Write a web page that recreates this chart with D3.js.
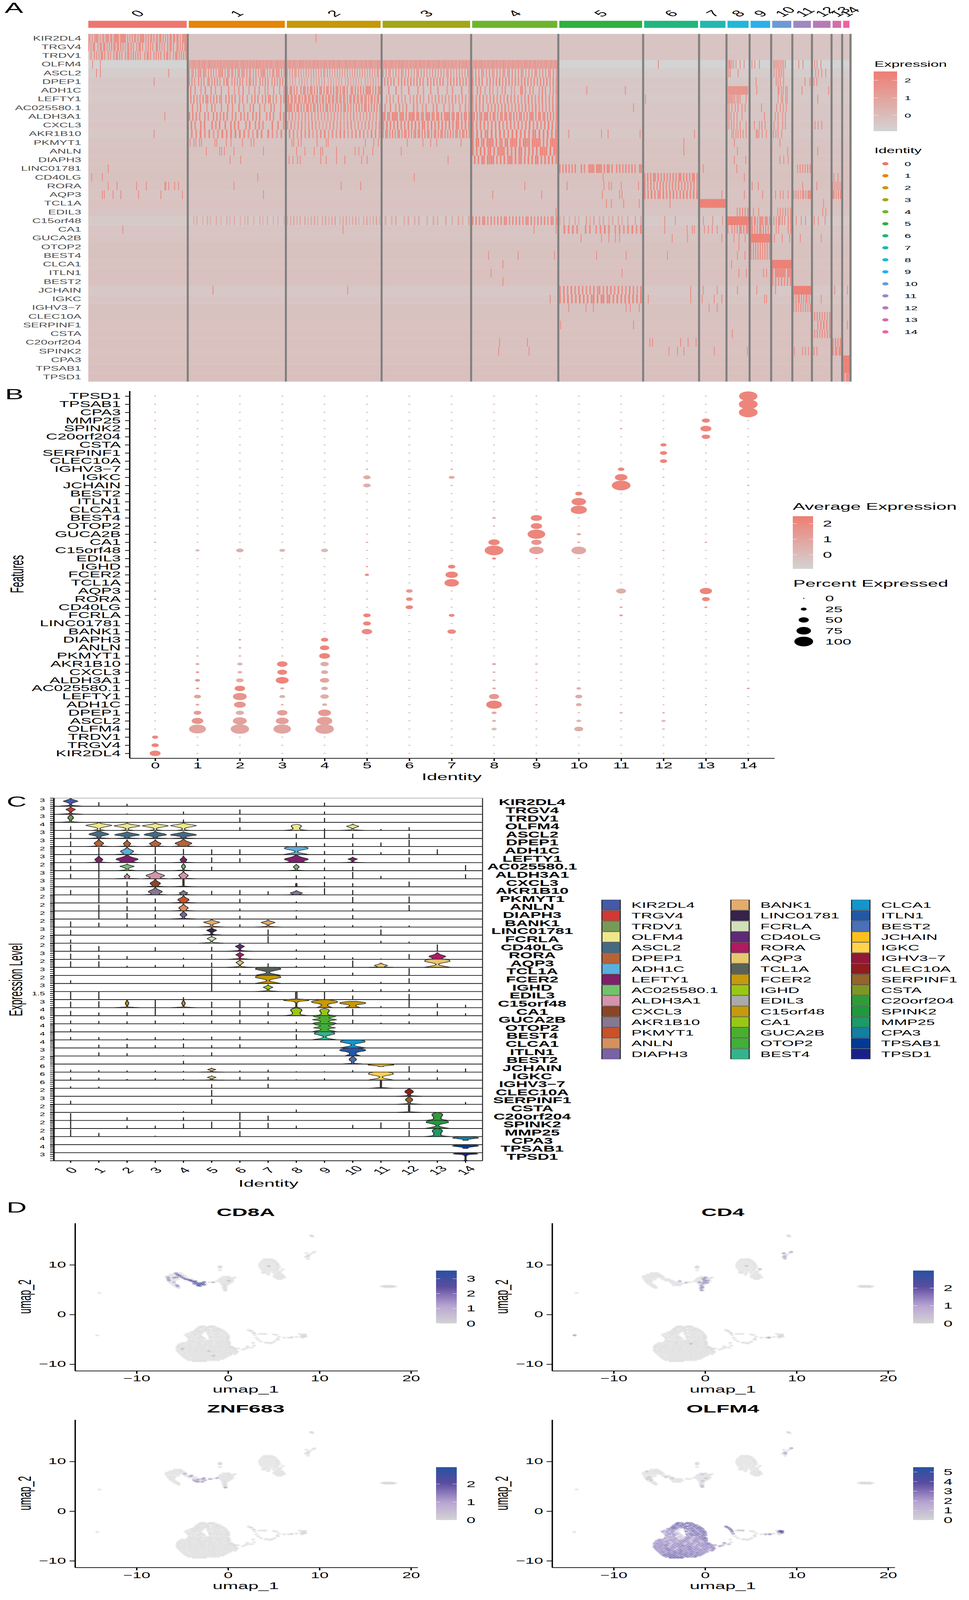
<!DOCTYPE html>
<html>
<head>
<meta charset="utf-8">
<script src="https://cdn.jsdelivr.net/npm/d3@7"></script>
<style>
  html, body { margin: 0; padding: 0; background: #fff; overflow: hidden; }
  svg { display: block; width: 100vw; height: 100vh; }
  text { font-family: "Liberation Sans", Arial, sans-serif; }
</style>
</head>
<body>
<svg id="fig" viewBox="0 0 2480 7926" preserveAspectRatio="none"></svg>
<script>
// ---- shared categories
const clusters = d3.range(15).map(String);
const clusterColors = ['#f0756f','#e58608','#c59806','#a3a51a','#6eb52d','#2fb040','#22b57e','#22b7b0','#20b8d8','#2bb0e8','#6e9ad4','#9f88c0','#b87ab5','#d46eaa','#ee62a0'];
// cells per cluster as seen from the width of the colour strip
const clusterSizes = [252,246,240,224,218,212,138,65,54,50,49,45,45,22,16];

// ---- panel A heatmap
const heatGenes = ['KIR2DL4','TRGV4','TRDV1','OLFM4','ASCL2','DPEP1','ADH1C','LEFTY1','AC025580.1','ALDH3A1','CXCL3','AKR1B10','PKMYT1','ANLN','DIAPH3','LINC01781','CD40LG','RORA','AQP3','TCL1A','EDIL3','C15orf48','CA1','GUCA2B','OTOP2','BEST4','CLCA1','ITLN1','BEST2','JCHAIN','IGKC','IGHV3\u22127','CLEC10A','SERPINF1','CSTA','C20orf204','SPINK2','CPA3','TPSAB1','TPSD1'];
// z score of a non expressing cell per gene
const heatZero = [-.32,-.32,-.32,-.9,-.62,-.45,-.45,-.5,-.38,-.4,-.36,-.42,-.3,-.28,-.27,-.26,-.25,-.26,-.3,-.22,-.3,-.55,-.35,-.3,-.25,-.25,-.22,-.2,-.2,-.45,-.35,-.25,-.25,-.22,-.2,-.2,-.22,-.18,-.15,-.15];
// blocks: gene, cluster, one char per group of cells ('.' none, digit = z / 0.3)
const heatBlocks = [
 ['KIR2DL4',0,'66.7.5677.6.57.678.68.58877.88888.7.6.8.76.8.7788.7.8.67.8.57.88.7.6.7.88.78.78.6.7878'],
 ['TRGV4',0,'7.6.78..6.77.88.6.7.8.78.78.8.7.5.77.8.7..7.88.7..6.8.7.7..88.7.6.7..8.78.7..68.7.7.88'],
 ['TRDV1',0,'..7..7.7.6.88.7..7.6..7.78.7.7..7.78.7.8.7.7.7...7.78.7..7.8.7.8..8.78.7..6.88.7.7.8.7'],
 ['OLFM4',1,'4344534353445334544353443534435344534453344534435344354453443534453344534435'],
 ['OLFM4',2,'4453445343544534435344534534435443534453445344354435344534435344534453443544'],
 ['OLFM4',3,'4453445344354453443534453453443544353445344534435344253444534'],
 ['OLFM4',4,'3445344534435344534534435443534453445344354435344534435344534453445'],
 ['ASCL2',1,'6.57.6.657.665.6.7.6.5.6657.6.67.57.6.57.665.7.65.6.7.5.6576.6.5.67.657.6.6'],
 ['ASCL2',2,'5.5.6.55.6.5.4.6.5.5.6.4.5.6.55.6.5.4.5.6.5.5.5.6.4.5.6.5.5.6.5.4.6.5.5.65.'],
 ['ASCL2',3,'5.6.55.4.6.5.65.5.6.4.5.65.5.6.5.4.6.5.5.6.5.55.6.4.5.6.5.5.65'],
 ['ASCL2',4,'5.6.5.65.5.6.54.6.5.65.56.6.5.5.65.4.6.5.65.5.6.5.65.6.5'],
 ['DPEP1',1,'7.7.6..7.6.7..76.6.8.7.6..7.87..6.7.6.7.7..6.76.7.6..7.6.7.7..6.7.6.7.7.'],
 ['DPEP1',2,'3.3.4.3..3.5.3.3..4.3.3.4.3.5..3.4.3.3.4.3..3.5.3.3.4.3.3..4.3.3.5.3.3.'],
 ['DPEP1',3,'.6.7.6.7..6.7.7.6.7.6.7.7.6..7.6.7.6.7.7..6.7.6.7.7.6.7.6'],
 ['DPEP1',4,'7.6.7.7..6.7.6.7.8.6.7.7.6.7.6.7.8.7.6.7.6.7.7.8.6.7.6'],
 ['ADH1C',1,'.7..6...5..7...7..5...6....6...5..6..7...5...6..6...5.5...6...5..5'],
 ['ADH1C',2,'7.78.7.7..8.87.7.78.7.8.87.7.87.7.8.78.7.78.7..87.8.7.8.7.8878.7.8.78'],
 ['ADH1C',3,'...5...6..4...6....5..4...5...5....4..5....6...4'],
 ['ADH1C',4,'5..7.6..5..6.4..4..5.6...4.4...77.6..6.5...5.7.6..5.6.7'],
 ['LEFTY1',1,'.7.7.6.6.7.77.6.7.7.66..7.8.7.7..6.7..6..6.7.7..6.7.77.6.6..7.7'],
 ['LEFTY1',2,'78.77.87.78.7.88.77.87.78.7.87.8.87.78.78.77.87.8.78.88.77.87.78.7.87.8.78.'],
 ['LEFTY1',3,'..4.5.4..6.4.5..4.5.6.5.4..5.4.5.6.4.5.4.6.5.4.5.5.4'],
 ['LEFTY1',4,'6.5.7.6.5.6.7.5.6.5.7.6.6.5.5.6.7.6.5.6.7.5.6.6.5'],
 ['AC025580.1',1,'..7..5.7...5..7.5...6...7..6...7..5...5.7...6..5...7.6...5..'],
 ['AC025580.1',2,'7788.7.78.8.7.78.7.77.8.7.7.78.7.7.8.7.7.78.7.7.6.7.8.7.78.7.7.8.7.6'],
 ['AC025580.1',3,'.5..6..5.6.4.6...6.5..4.5...5.6...5..4.5...5..6.4'],
 ['AC025580.1',4,'5.7.5.6..6.5.7.5.6.7.5.5.6.6.5.7.5.6.7.5.6.5.5.7.6'],
 ['ALDH3A1',1,'7.7.7.6..7.6..7.7.6.7.7..6.7..7.6.7..7.6.7...6.7.6...7.7'],
 ['ALDH3A1',2,'.5.6.4.5.4.5.4.6.4.5.4.5.5.4.6.4.4.5.4.5.6.4.5.4.5.6.4.5.4'],
 ['ALDH3A1',3,'78.87.8888.788.8.8788.88.78.888.87.88.8.7888.78.88.7.88.8'],
 ['ALDH3A1',4,'77.8.78.888.7.88.7.78.88.78.8.7.88.7.8.888.7.88.78.8.8.7.8'],
 ['CXCL3',1,'.7.6..7.7...7.6.7..7..7.7.7...6.7..6.7.6....7..7..6'],
 ['CXCL3',2,'5.6.4.5.6.4.5.6.5.4.3.4.5.6.4.5.4.5.6.4.5.4.5.6.4.5.6'],
 ['CXCL3',3,'7.8.7.7.8.7.7.8.7.8.7.87.7.8.7.7.8.7.8.7.87.7.8.7'],
 ['CXCL3',4,'7.6.7.7.6.7.7.8.6.7.7.6.7.6.7.8.6.7.6.7.8.7.6'],
 ['AKR1B10',1,'.6.5.7.5.6.4.5.7.6.7.7.7.6.5.4.7.6..7.5.4.6.'],
 ['AKR1B10',2,'.6.5.4.6.5.6.4.5.6.7.4.6.5.7.6.4.5.6.6.5.4.7.6.5'],
 ['AKR1B10',3,'7.78.7.8.7.78.7.87.8.7.78.78.7.8.78.7.78.7.87.8.7.8.7.78.7.87.8.7'],
 ['AKR1B10',4,'7.8.7.77.8.7.8.7.7.8.8.7.8.7.77.8.7.8.7.8'],
 ['PKMYT1',4,'8.88.78.8888.8.78.88.8878.8.8878.88888.7.8.8888'],
 ['ANLN',4,'8.7.8.8.78.8.8788.8.7.8.88.7.8.8.8.8878.8.88'],
 ['DIAPH3',4,'.8.7.88.8788.7.8.8.788.8.78.7.8.8.88.7.8.8.8.7'],
 ['LINC01781',5,'7.7.8.7.7.8...8.7..8787.8887.8.88.8..7.8.7.8.7.8.7..88'],
 ['LINC01781',11,'...5.6.6.6.7.7'],
 ['CD40LG',6,'7.8.7.87.8.7.8.7.7.8.7.88.7.8.7.88.8'],
 ['RORA',6,'7.6.7.6.6.7.7.6.6.7.6.7.6.7.6.7.7.7'],
 ['RORA',13,'7.7.8.7.7.7'],
 ['AQP3',6,'7.7.8.7.77.8.7.8.8.7.7.8.8.7.8.8'],
 ['AQP3',11,'7.7.7.6.78.8.888'],
 ['AQP3',13,'88.7.8.8'],
 ['TCL1A',7,'88888888888888888888888888'],
 ['EDIL3',8,'.......6.6.7.7.7'],
 ['EDIL3',10,'....5.6.5.6.5.6'],
 ['C15orf48',1,'...2.3...2..3.2...3..2...3.2..3...2..2.3...2...3.2..3...2..3...2'],
 ['C15orf48',2,'2.3.4.2.3..4.2.3.4.2..3.4.2.3.4..2.3.4.2.3.4.2..3.4.2.3.4.2'],
 ['C15orf48',3,'.3..2.3...2.3..2.3...2..3.2...3..2..3.2..3'],
 ['C15orf48',4,'7.7.6.77.6.7.6.7.7.77.6.7.7.7.6.77.7.6.7.7.7.6.77.7'],
 ['C15orf48',5,'2.3..2..3.2...4.2.4..3.3..2.3..3.2..3...3..3'],
 ['C15orf48',8,'88888888888888888888'],
 ['C15orf48',9,'88.88.8.8878.888.8'],
 ['C15orf48',10,'.7.7.78.8.7..8.7'],
 ['CA1',5,'..7.6.7.6...6.6..5.6.7.6..5.6.5.6.7.5.7'],
 ['CA1',8,'6..6.6.7.88.8.88'],
 ['CA1',9,'78.7.8.78.8.8.7.'],
 ['CA1',10,'...5.6.......7.7'],
 ['GUCA2B',9,'88888888888888888'],
 ['OTOP2',9,'7.8.8.7.8.7.8.8.7'],
 ['BEST4',9,'7.8.7.8.8.7.8.8.7'],
 ['CLCA1',10,'88888888888888'],
 ['ITLN1',10,'8.88888888.888'],
 ['BEST2',10,'6.7.6.7.6.7.7'],
 ['JCHAIN',5,'6.7.6.7.6.7.6.6.6.7.67.6.7.7.6.7.6.6.7.6.5.7'],
 ['JCHAIN',11,'888888888888'],
 ['IGKC',5,'7.7.8.7.7.8.7.7.78.8.88.78.7.8.7.7.8.7.7.8'],
 ['IGKC',11,'8.8.78.8.8.78.8.'],
 ['IGHV3\u22127',11,'6.7.6.7.6.7.6.7'],
 ['CLEC10A',12,'.7.7.7.6.7.6.7'],
 ['SERPINF1',12,'...6.7.8.8.7'],
 ['CSTA',12,'.6.7.6.7.6.7.7'],
 ['C20orf204',13,'7.8.7.8'],
 ['SPINK2',13,'8.78.88'],
 ['CPA3',14,'8888888'],
 ['TPSAB1',14,'8888888'],
 ['TPSD1',14,'88.8888']
];
// single expressing cells: gene, cluster, percent along the cluster
const heatSingles = [
 ['KIR2DL4',2,[31]],['OLFM4',0,[4,12]],['ASCL2',0,[8,12,82]],['DPEP1',0,[67]],['ALDH3A1',0,[78]],['AKR1B10',0,[67]],
 ['OLFM4',6,[26]],['OLFM4',8,[3,8,13,20,28,40,60,80]],['OLFM4',9,[5,20,45]],['OLFM4',10,[5,12,20,28,35,44,52,60,70]],['OLFM4',11,[30,55]],['OLFM4',12,[8,22,45]],
 ['ASCL2',8,[4,12,50]],['ASCL2',10,[8,20,32,40,50,60]],['ASCL2',12,[14,30,50,74]],
 ['DPEP1',9,[27]],['DPEP1',10,[20,30,42,60]],['DPEP1',11,[67,96]],['DPEP1',12,[4,21]],
 ['ADH1C',5,[33,80]],['ADH1C',8,[2,7,12,17,22,27,32,37,42,47,52,57,62,67,72,77,82,87,92,97]],['ADH1C',9,[31]],['ADH1C',10,[30,35,48,58,72,80]],['ADH1C',11,[49]],['ADH1C',12,[91]],
 ['LEFTY1',6,[2]],['LEFTY1',8,[2,8,14,20,27,34,45,52,60,90]],['LEFTY1',10,[30,48,55,72,80]],['LEFTY1',12,[26]],
 ['AC025580.1',5,[90]],['AC025580.1',8,[5,20,36,50,70,85]],['AC025580.1',9,[56]],['AC025580.1',10,[22,42,58,75]],
 ['ALDH3A1',8,[5,15,30,45,70]],['ALDH3A1',9,[72]],['ALDH3A1',10,[15,30,55,70]],
 ['CXCL3',8,[5,18,30,45,60,90]],['CXCL3',9,[18,45,58,75]],['CXCL3',10,[8,30,55,70]],['CXCL3',12,[10,28,50]],
 ['AKR1B10',5,[11,51,59,98]],['AKR1B10',6,[94]],['AKR1B10',8,[20,28,40,50,62,75,90]],['AKR1B10',9,[28,34,42,60,82]],['AKR1B10',10,[5,18,30,50]],
 ['PKMYT1',1,[1,5,7,11,13,27,29,39,44,56,65,68]],['PKMYT1',2,[5,7,12,15,32,42,44,84,93,98]],['PKMYT1',3,[28,46,55,62,90]],['PKMYT1',6,[74]],['PKMYT1',8,[32]],['PKMYT1',10,[40]],
 ['ANLN',1,[18,32,34,37,47,78]],['ANLN',2,[10,19,29,36,38,53,73,77,82,92]],['ANLN',3,[21]],['ANLN',6,[74]],['ANLN',8,[47]],['ANLN',10,[82]],['ANLN',12,[26]],
 ['DIAPH3',1,[43,54]],['DIAPH3',2,[2,6,11,14,36,42,53,62,80,86]],['DIAPH3',3,[75]],['DIAPH3',8,[32,88]],['DIAPH3',10,[40,61,85]],
 ['LINC01781',0,[20]],['LINC01781',7,[11]],['LINC01781',8,[44]],
 ['CD40LG',0,[3,14]],['CD40LG',1,[72]],['CD40LG',3,[36]],['CD40LG',5,[53]],['CD40LG',8,[81]],['CD40LG',13,[11,64]],
 ['RORA',0,[20,29,49,59,78,79,82,88,92]],['RORA',1,[47]],['RORA',2,[58,79]],['RORA',4,[62]],['RORA',5,[9,54,60,63,75,96]],['RORA',9,[6,39]],['RORA',11,[53]],['RORA',12,[21]],
 ['AQP3',0,[14,16,25,33,51,74,96]],['AQP3',1,[78]],['AQP3',4,[24,82]],['AQP3',5,[52,73,76]],['AQP3',7,[87]],['AQP3',8,[81]],['AQP3',9,[62]],['AQP3',10,[16,42,58,85]],
 ['TCL1A',5,[57,63,78,97]],['TCL1A',6,[48]],['TCL1A',12,[61]],
 ['EDIL3',4,[99]],['EDIL3',9,[13,41]],['EDIL3',12,[56,74]],
 ['C15orf48',6,[38,58]],['C15orf48',7,[12,50,90]],['C15orf48',11,[15,45,70]],['C15orf48',12,[6,30,70]],
 ['CA1',0,[35]],['CA1',2,[60]],['CA1',4,[73,99]],['CA1',6,[38,80,90,94]],['CA1',7,[16,32,48,68]],
 ['GUCA2B',5,[26,51,60,68,73]],['GUCA2B',6,[52,81]],['GUCA2B',7,[87]],['GUCA2B',8,[30,55,85]],['GUCA2B',10,[10,53,93]],['GUCA2B',11,[39]],['GUCA2B',12,[47]],
 ['OTOP2',8,[54]],['BEST4',4,[19,54,97]],['BEST4',5,[45,81]],['BEST4',6,[43]],['BEST4',8,[47,84]],
 ['CLCA1',4,[36]],['CLCA1',8,[18]],['ITLN1',4,[22]],['ITLN1',5,[76]],['ITLN1',8,[54,91]],['ITLN1',9,[67,83]],['BEST2',4,[36]],
 ['JCHAIN',1,[25]],['JCHAIN',2,[65]],['JCHAIN',6,[87]],['JCHAIN',7,[11,68]],['JCHAIN',8,[47]],['JCHAIN',9,[31]],['JCHAIN',10,[16]],['JCHAIN',13,[22]],['JCHAIN',14,[70]],
 ['IGKC',4,[92]],['IGKC',6,[7,87]],['IGKC',7,[7,56,87]],['IGKC',9,[72,83]],['IGKC',12,[47]],
 ['IGHV3\u22127',5,[11,32,41,81,86,97]],['IGHV3\u22127',7,[35,68]],
 ['SERPINF1',5,[1,90]],['SERPINF1',14,[70]],['CSTA',8,[22]],
 ['C20orf204',4,[32,65]],['C20orf204',6,[10,15,68,82,97]],
 ['SPINK2',4,[31,67]],['SPINK2',6,[46,62,74]],['SPINK2',7,[56]],['SPINK2',8,[96]],['SPINK2',11,[4,53,70,88]],['SPINK2',12,[4,21]]
];

// ---- panel B dot plot
const dotGenes = ['TPSD1','TPSAB1','CPA3','MMP25','SPINK2','C20orf204','CSTA','SERPINF1','CLEC10A','IGHV3\u22127','IGKC','JCHAIN','BEST2','ITLN1','CLCA1','BEST4','OTOP2','GUCA2B','CA1','C15orf48','EDIL3','IGHD','FCER2','TCL1A','AQP3','RORA','CD40LG','FCRLA','LINC01781','BANK1','DIAPH3','ANLN','PKMYT1','AKR1B10','CXCL3','ALDH3A1','AC025580.1','LEFTY1','ADH1C','DPEP1','ASCL2','OLFM4','TRDV1','TRGV4','KIR2DL4'];
// the visible dots: gene, cluster, percent expressed, average expression
const dotSpots = [
 ['TPSD1',14,98,2.2],['TPSAB1',14,100,2.2],['CPA3',14,100,2.2],
 ['MMP25',13,38,2.2],['MMP25',12,3,.5],['MMP25',0,3,.6],
 ['SPINK2',13,55,2.2],['SPINK2',11,7,.5],['SPINK2',0,3,.6],
 ['C20orf204',13,41,2.1],['C20orf204',0,3,.5],['C20orf204',6,3,.5],
 ['CSTA',12,27,2.2],['SERPINF1',12,33,2.2],['SERPINF1',14,4,.2],['CLEC10A',12,33,2.2],
 ['IGHV3\u22127',11,29,2.2],['IGHV3\u22127',5,5,.8],['IGHV3\u22127',7,5,1],
 ['IGKC',11,64,2.2],['IGKC',5,34,.6],['IGKC',7,25,.6],['IGKC',9,4,.2],['IGKC',12,4,.3],
 ['JCHAIN',11,100,2.2],['JCHAIN',5,34,.5],['JCHAIN',7,5,.4],['JCHAIN',12,4,.3],['JCHAIN',14,6,.3],
 ['BEST2',10,33,2.2],['ITLN1',10,75,2.1],['ITLN1',8,6,.4],['CLCA1',10,85,2.1],
 ['BEST4',9,57,2.1],['BEST4',8,12,.5],['OTOP2',9,57,2.1],['OTOP2',8,5,.4],
 ['GUCA2B',9,94,2.2],['GUCA2B',10,17,.5],['GUCA2B',5,4,.3],
 ['CA1',8,57,2.1],['CA1',9,51,1.5],['CA1',10,8,.8],['CA1',0,6,.1],['CA1',13,7,.3],['CA1',5,7,.4],['CA1',6,5,.1],['CA1',7,5,.2],
 ['C15orf48',8,100,2.1],['C15orf48',9,75,1.1],['C15orf48',10,77,.8],['C15orf48',1,16,.1],['C15orf48',2,34,.5],['C15orf48',3,25,.2],['C15orf48',4,32,.1],['C15orf48',12,5,.3],['C15orf48',0,3,-.1],['C15orf48',5,4,0],['C15orf48',6,3,0],['C15orf48',7,4,-.1],
 ['EDIL3',8,14,2],['EDIL3',9,5,1.6],['EDIL3',10,4,.8],
 ['IGHD',7,34,2.2],['IGHD',5,5,1.5],['FCER2',7,63,2.2],['FCER2',5,16,2],['TCL1A',7,75,2.2],
 ['AQP3',11,48,.6],['AQP3',13,62,2.2],['AQP3',0,5,-.2],['AQP3',6,30,1.3],
 ['RORA',13,37,2],['RORA',0,6,.2],['RORA',5,4,.3],['RORA',6,30,2],
 ['CD40LG',13,9,1.5],['CD40LG',6,34,2.2],['CD40LG',11,9,.7],
 ['FCRLA',5,34,2.2],['FCRLA',7,25,2],['FCRLA',11,12,1],
 ['LINC01781',5,37,2.2],['LINC01781',7,3,.5],['BANK1',5,52,2],['BANK1',7,41,2],
 ['DIAPH3',2,7,1],['DIAPH3',4,34,2.2],['ANLN',1,4,.9],['ANLN',2,7,.8],['ANLN',4,45,2.2],
 ['PKMYT1',1,5,1],['PKMYT1',2,7,.6],['PKMYT1',3,4,.3],['PKMYT1',4,54,2.2],
 ['AKR1B10',1,12,1],['AKR1B10',2,23,.2],['AKR1B10',3,52,2.1],['AKR1B10',4,41,.6],['AKR1B10',8,14,.7],['AKR1B10',9,7,.5],
 ['CXCL3',1,11,1.3],['CXCL3',2,18,.4],['CXCL3',3,48,2.1],['CXCL3',4,32,.7],['CXCL3',8,8,.4],['CXCL3',9,5,.3],
 ['ALDH3A1',1,20,1.5],['ALDH3A1',2,36,.5],['ALDH3A1',3,66,2.2],['ALDH3A1',4,45,.9],['ALDH3A1',8,9,.4],['ALDH3A1',9,4,.3],
 ['AC025580.1',1,11,1.2],['AC025580.1',2,52,2.2],['AC025580.1',3,14,.6],['AC025580.1',4,30,.6],['AC025580.1',8,12,.6],['AC025580.1',9,4,.4],['AC025580.1',10,18,.5],['AC025580.1',14,8,1.5],
 ['LEFTY1',1,32,1],['LEFTY1',2,72,1.5],['LEFTY1',3,25,.4],['LEFTY1',4,41,.5],['LEFTY1',8,50,1.5],['LEFTY1',10,32,.7],
 ['ADH1C',1,12,.7],['ADH1C',2,59,1.5],['ADH1C',3,7,.6],['ADH1C',4,21,.4],['ADH1C',8,82,2.3],['ADH1C',9,5,.3],['ADH1C',10,25,.5],['ADH1C',13,4,.3],
 ['DPEP1',1,36,1.4],['DPEP1',2,39,.5],['DPEP1',3,52,1.2],['DPEP1',4,66,1.4],['DPEP1',8,20,.7],['DPEP1',10,4,.3],['DPEP1',11,11,0],['DPEP1',12,7,.7],
 ['ASCL2',1,59,1.6],['ASCL2',2,73,1],['ASCL2',3,66,1.1],['ASCL2',4,81,1.1],['ASCL2',8,14,.2],['ASCL2',10,19,.1],['ASCL2',12,16,0],
 ['OLFM4',1,90,.95],['OLFM4',2,98,.95],['OLFM4',3,93,.95],['OLFM4',4,99,.95],['OLFM4',8,22,-.1],['OLFM4',9,5,-.4],['OLFM4',10,43,.6],['OLFM4',11,5,-.4],['OLFM4',12,9,-.4],
 ['TRDV1',0,27,2.1],['TRGV4',0,34,2.2],['KIR2DL4',0,54,2.2]
];
const dotPercentBreaks = [0,25,50,75,100];

// ---- panel C stacked violins
const violinGenes = ['KIR2DL4','TRGV4','TRDV1','OLFM4','ASCL2','DPEP1','ADH1C','LEFTY1','AC025580.1','ALDH3A1','CXCL3','AKR1B10','PKMYT1','ANLN','DIAPH3','BANK1','LINC01781','FCRLA','CD40LG','RORA','AQP3','TCL1A','FCER2','IGHD','EDIL3','C15orf48','CA1','GUCA2B','OTOP2','BEST4','CLCA1','ITLN1','BEST2','JCHAIN','IGKC','IGHV3\u22127','CLEC10A','SERPINF1','CSTA','C20orf204','SPINK2','MMP25','CPA3','TPSAB1','TPSD1'];
const violinColors = ['#4459a8','#d03a32','#759a58','#eee88c','#466a84','#b86238','#5bb0de','#7f206a','#72c26c','#d494ac','#8c4426','#86788f','#c8522a','#d6905e','#7a62a6','#e4ac6a','#37224a','#d0dfb8','#5e2a78','#b01a60','#e6c870','#596259','#c69a08','#98c814','#aaaaaa','#c69a08','#98c814','#4cae30','#40b038','#34b48c','#1496cc','#2258a8','#4a70b8','#fac01e','#ffd34e','#921838','#901c20','#946428','#7c9628','#339a3c','#1e9a3c','#1c9a68','#147f9e','#003a96','#182088'];
const violinTickLabels = [3,3,3,4,3,3,2,3,2,3,3,3,2,2,2,2,3,2,2,3,2,3,2,3,1.5,3,4,6,4,4,4,3,2,6,6,6,2,3,2,2,2,2,4,4,3];
// height of the plain spikes, as a share of the facet, one row per gene
const violinSpikes = [
 [0,.5,.3,0,0,0,0,0,0,.45,0,0,0,0,0],[0,0,.1,0,.35,0,.6,0,0,.35,0,0,0,0,0],[0,0,0,0,.35,0,.6,0,0,.55,0,0,0,0,0],
 [.5,0,0,0,0,0,.4,0,0,.25,0,.18,.4,0,0],[.7,0,0,0,0,0,0,0,.6,1,.6,0,.6,0,0],[.65,0,0,0,0,0,0,0,.5,.4,.4,.5,.85,0,0],
 [.55,.9,0,.95,.7,.65,.65,0,0,.45,.6,.3,.65,.65,0],[.5,0,0,.75,0,.65,.55,0,0,.4,0,0,.65,0,0],[.6,1,0,.8,0,.5,0,0,0,.4,.5,0,0,0,.7],
 [.6,1,0,0,0,0,0,0,.4,.3,.85,.35,0,0,.55],[0,.9,.65,0,0,0,0,0,0,.6,.45,0,.65,0,0],[.6,.9,.55,0,0,.5,.6,.45,0,.85,.6,0,0,0,0],
 [0,1,.65,.55,0,0,.5,0,.2,0,.75,0,.8,0,0],[0,.8,.6,.55,0,0,.3,0,.1,0,.3,0,.75,0,0],[0,.95,.75,.6,0,0,.4,0,.4,0,.5,0,0,0,0],
 [.7,.55,.35,.3,.3,0,.35,0,0,.2,.25,.15,.2,0,0],[.65,0,0,0,0,0,0,.7,.2,.2,0,.7,0,0,0],[.45,0,0,0,0,0,0,.9,0,.4,0,.3,.2,0,0],
 [.85,.65,0,.5,0,.55,0,0,.25,0,0,0,0,.85,0],[.7,.55,.4,0,.2,.65,0,0,.2,.5,.25,.1,.65,0,0],[.75,.75,.2,.3,.35,.6,0,.5,.2,.2,.85,0,0,0,0],
 [0,0,0,0,0,.85,.3,0,0,0,.35,0,.9,0,0],[.4,0,0,0,0,.95,.4,0,0,.6,0,.2,.65,0,0],[0,0,0,0,0,1,0,0,0,0,.25,.3,.3,0,0],
 [1,1,0,0,.3,0,0,0,0,1,.5,0,.7,0,0],[.75,.8,0,1,0,.75,.9,.6,0,0,0,.2,1,.55,.35],[.6,.4,.45,.95,.35,.7,.65,.55,0,0,.85,.1,.25,.55,.3],
 [.4,.35,.3,.4,.15,.4,.5,.3,.25,0,.5,.15,.3,0,0],[.35,0,0,0,0,0,0,0,.35,0,0,0,0,0,0],[.35,.35,.2,.35,.2,.4,.4,0,.7,0,0,0,0,0,0],
 [0,.4,.5,.35,.55,.35,.45,0,.3,0,0,0,0,0,0],[0,.45,.35,0,.1,.45,0,0,.25,.2,0,0,0,0,0],[0,0,0,0,.4,0,0,0,0,0,0,0,0,0,0],
 [.3,.25,.2,.2,.15,0,.2,.3,.1,.1,.25,0,.75,.3,.45],[.35,.3,.15,.25,.15,0,.4,.4,.1,.25,0,0,.3,.35,0],[.25,.2,0,.05,0,.5,0,.55,0,0,0,0,0,0,0],
 [0,0,0,0,0,.8,0,0,0,0,0,0,0,0,0],[.45,0,0,0,0,.65,0,0,0,0,0,0,0,0,.3],[0,0,0,0,.15,0,0,0,.35,0,0,0,0,0,0],
 [.9,0,.4,0,.4,0,.95,.6,0,0,0,0,0,0,0],[1,0,.35,.35,.6,.85,.8,.7,.35,0,.45,.75,.8,0,0],[.9,.45,0,.1,0,0,.7,0,0,0,0,0,.8,0,0],
 [0,0,0,0,0,0,0,0,0,0,0,0,0,0,0],[0,0,0,0,0,0,0,0,0,0,0,0,0,0,0],[0,0,0,0,0,0,0,0,0,0,0,0,0,0,0]
];
// density profiles, bottom of the violin to the top
const wideDiamond = [.55,.1,.1,.3,.7,1,.55,.15,0];
const wideBell = [.9,.15,.2,.55,.95,.8,.45,.15,0];
const footDiamond = [1,.14,.05,.14,.38,.62,.38,.1,0];
const thinDiamond = [1,.12,.04,.1,.22,.36,.22,.06,0];
const spindle = [1,.08,.06,.12,.2,.2,.14,.06,0];
const lump = [.95,.4,.5,.7,.65,.4,.2,.08,0];
const tower = [1,.42,.3,.3,.34,.42,.42,.32,0];
const hourglass = [1,.62,.22,.1,.24,.62,.95,.92,.55];
const waisted = [.95,.75,.3,.42,.95,.55,.35,.8,.9];
const topCap = [.18,.04,.04,.04,.04,.08,.2,.95,.5];
const floatCap = [.18,.18,.3,.7,1,.9,.4];
const funnel = [.6,.4,.25,.25,.45,.9,1,.8,.3];
const thread = [.95,.03,.03,.03,.03,.03,.03,.03,0];
// gene, cluster, profile, height share of the facet, width multiplier, share where the violin starts
const violinBodies = [
 ['KIR2DL4',0,footDiamond,1,.9],['TRGV4',0,thinDiamond,.95,1],['TRDV1',0,spindle,1,1],
 ['OLFM4',1,wideDiamond,1,1],['OLFM4',2,wideDiamond,.92,1],['OLFM4',3,wideDiamond,.92,1],['OLFM4',4,wideDiamond,.95,1],['OLFM4',8,tower,.76,.9],['OLFM4',10,footDiamond,.8,.75],
 ['ASCL2',1,wideBell,1,.8],['ASCL2',2,wideBell,.85,1],['ASCL2',3,wideBell,.9,.9],['ASCL2',4,wideBell,.85,1.05],
 ['DPEP1',1,lump,.95,.5],['DPEP1',2,lump,.85,.38],['DPEP1',3,lump,.85,.62],['DPEP1',4,lump,.95,.9],
 ['ADH1C',2,lump,.95,.7],['ADH1C',8,hourglass,.98,.95],
 ['LEFTY1',1,lump,.9,.42],['LEFTY1',2,lump,1,1.2],['LEFTY1',4,lump,.85,.36],['LEFTY1',8,lump,1,1.3],['LEFTY1',10,thinDiamond,.7,1],
 ['AC025580.1',2,thinDiamond,.85,1.5],['AC025580.1',4,spindle,.9,.7],['AC025580.1',8,spindle,.8,1],
 ['ALDH3A1',2,lump,.65,.3],['ALDH3A1',3,lump,.95,1],['ALDH3A1',4,lump,.95,.5],
 ['CXCL3',3,lump,1,.55],['CXCL3',4,thread,1,1.5],['CXCL3',8,thread,.45,1.5],
 ['AKR1B10',3,lump,.95,.75],['AKR1B10',4,lump,.55,.45],['AKR1B10',8,lump,.55,.65],
 ['PKMYT1',4,lump,.95,.6],['ANLN',4,lump,.9,.5],['DIAPH3',4,spindle,.95,1.2],
 ['BANK1',5,footDiamond,.95,1],['BANK1',7,footDiamond,.9,.85],['LINC01781',5,thinDiamond,.95,1.05],['FCRLA',5,thinDiamond,.9,.95],
 ['CD40LG',6,thinDiamond,.95,.95],['RORA',6,thinDiamond,.9,.85],['RORA',13,lump,.85,.9],
 ['AQP3',6,thinDiamond,.95,.8],['AQP3',11,lump,.55,.7],['AQP3',13,hourglass,1,1.02],
 ['TCL1A',7,hourglass,1.02,1.02],['FCER2',7,hourglass,1,1.02],['IGHD',7,thinDiamond,.85,1],
 ['EDIL3',8,thread,1,1.8],
 ['C15orf48',2,spindle,.95,.6],['C15orf48',4,spindle,.95,.6],['C15orf48',8,topCap,1.02,1.02],['C15orf48',9,funnel,.98,1],['C15orf48',10,funnel,.78,1],
 ['CA1',8,tower,.98,1],['CA1',9,tower,.9,.85],
 ['GUCA2B',9,waisted,1,.98],['OTOP2',9,waisted,1,.88],['BEST4',9,hourglass,1,.82],
 ['CLCA1',10,hourglass,1,1],['ITLN1',10,funnel,1,1],['BEST2',10,spindle,1,1.3],
 ['JCHAIN',5,thinDiamond,.5,.85],['JCHAIN',11,floatCap,.98,1,.68],['IGKC',5,thinDiamond,.55,.9],['IGKC',11,hourglass,1,1],['IGHV3\u22127',11,thread,1,1.5],
 ['CLEC10A',12,spindle,1,1.55],['SERPINF1',12,spindle,1,1.3],['CSTA',12,thread,.95,1.6],
 ['C20orf204',13,tower,1,.95],['SPINK2',13,hourglass,1,.9],['MMP25',13,tower,1,.9],
 ['CPA3',14,floatCap,.98,1,.52],['TPSAB1',14,floatCap,.98,1,.52],['TPSD1',14,topCap,.98,1]
];

// ---- panel D umap, grey cells read row by row: y then the x of each cell
const umapRows = [
 [-2.35,[-2.95,-2.6,-1.95,-1.6]],
 [-2.55,[-3.15,-2.8,-2.35,-2.05,-1.75,-1.35]],
 [-2.8,[-3.35,-3,-2.55,-2.25,-1.6,-1.2,-.95]],
 [-3.05,[-3.5,-3.2,-2.75,-2.4,-2.05,-1.8,-1.4,-1.1,-.7]],
 [-3.3,[-3.65,-3.3,-2.95,-2.55,-2.2,-1.6,-1.25,-.85,-.5]],
 [-3.55,[-4.05,-3.75,-3.4,-3.1,-2.75,-2.15,-1.85,-1.45,-1.05,-.7,-.3]],
 [-3.85,[-4.4,-3.95,-3.6,-3.3,-2.95,-2.2,-1.75,-1.35,-1,-.55,-.2]],
 [-4.1,[-4.65,-4.2,-3.8,-3.5,-3.1,-2.05,-1.55,-1.2,-.8,-.4,-.05]],
 [-4.4,[-4.45,-4.05,-3.65,-3.2,-2.9,-1.95,-1.7,-1.3,-.95,-.6,-.2,.05]],
 [-4.65,[-4.3,-3.9,-3.45,-3.05,-2.7,-2,-1.55,-1.15,-.75,-.35,0]],
 [-4.9,[-4.2,-3.75,-3.35,-3,-2.6,-1.85,-1.4,-1,-.65,-.25,.05]],
 [-5.2,[-4.25,-3.9,-3.5,-3.1,-2.75,-2.3,-1.95,-1.6,-1.2,-.8,-.45,-.1]],
 [-5.45,[-4.35,-3.95,-3.6,-3.2,-2.85,-2.45,-2.05,-1.7,-1.3,-.95,-.55,-.15,.1]],
 [-5.7,[-5,-4.6,-4.15,-3.75,-3.35,-3.05,-2.6,-2.2,-1.85,-1.4,-1.05,-.7,-.3,.1]],
 [-5.95,[-5.25,-4.85,-4.4,-4.05,-3.6,-3.2,-2.85,-2.45,-2.1,-1.7,-1.25,-.9,-.5,-.1,.15]],
 [-6.2,[-5.4,-5,-4.6,-4.25,-3.85,-3.4,-3.05,-2.65,-2.3,-1.9,-1.5,-1.1,-.75,-.35,.05]],
 [-6.45,[-5.5,-5.15,-4.75,-4.35,-4,-3.6,-3.2,-2.85,-2.5,-2.05,-1.7,-1.3,-.9,-.55,-.15,.2,.4]],
 [-6.7,[-5.55,-5.2,-4.8,-4.45,-4.1,-3.7,-3.35,-2.95,-2.6,-2.2,-1.85,-1.45,-1.05,-.7,-.3,.05,.35,.6]],
 [-6.95,[-5.45,-5,-4.65,-4.25,-3.9,-3.5,-3.1,-2.75,-2.4,-2,-1.6,-1.25,-.85,-.45,-.1,.25,.7]],
 [-7.2,[-5.55,-5.2,-4.85,-4.4,-4.05,-3.65,-3.3,-2.9,-2.55,-2.15,-1.75,-1.4,-1,-.6,-.25,.15,.5,.85]],
 [-7.45,[-5.4,-5,-4.6,-4.2,-3.8,-3.45,-3.05,-2.7,-2.3,-1.9,-1.55,-1.15,-.8,-.4,-.05,.3,.7,1]],
 [-7.7,[-5.3,-4.85,-4.45,-4.05,-3.65,-3.25,-2.85,-2.5,-2.1,-1.7,-1.35,-.95,-.55,-.2,.15,.5,.9]],
 [-7.95,[-5.15,-4.75,-4.3,-3.9,-3.5,-3.1,-2.7,-2.3,-1.95,-1.55,-1.15,-.75,-.4,0,.35,.75]],
 [-8.2,[-5,-4.6,-4.15,-3.75,-3.35,-2.95,-2.55,-2.15,-1.75,-1.4,-1,-.6,-.2,.2]],
 [-8.45,[-4.85,-4.45,-4,-3.6,-3.2,-2.8,-2.4,-2,-1.6,-1.25,-.85,-.45,-.1]],
 [-8.7,[-4.7,-4.3,-3.85,-3.45,-3.05,-2.65,-2.25,-1.85,-1.5,-1.1,-.7,-.35]],
 [-8.95,[-4.5,-4.1,-3.7,-3.3,-2.9,-2.5,-2.1,-1.7,-1.35,-.95,-.6]],
 [-9.2,[-4.25,-3.85,-3.45,-3.05,-2.65,-2.3,-1.9,-1.5,-1.1]],
 [-9.4,[-3.75,-3.35,-2.95,-2.55]],
 [-6.85,[.75,1.1,1.9]],[-7.05,[1.6]],[-6.4,[2.1]],[-6.65,[2.6,2.2]],[-6.25,[2.85]],[-5.7,[2.75]],
 [-3.1,[2.25]],[-3.3,[2.6,2.45]],[-3.7,[2.85,2.75]],[-4.1,[2.95,5.3]],[-4.65,[3.1,6.15,6.65,8.1]],[-5.05,[3.3,5.45]],[-5.4,[3.6,5.1]],[-5.65,[4.1,4.35,4.85]],[-5.8,[4.6]],
 [-4.9,[5.4]],[-4.5,[5.57,7.5,8.3]],[-4,[5,8.2,8.45]],[-3.9,[3.45,3.8,4.1,7.85]],[-4.6,[7,6.9]],[-4.4,[8,8.5,8.25]],[-4.2,[8.4,8.1]],
 [4.36,[-14.05]],[-4.18,[-14.3]],
 [5.66,[16.8,17.05,17.3,17.55,17.8,18.05,18.3]],[5.8,[17.1,17.5,17.9]],[5.5,[17.2,17.6,18]],
 [15.9,[9.05,9.15]],[15.7,[9.25]],[12.63,[9.46]],[12.42,[9.26]],[12.1,[8.95]],[12.37,[8.58]],[11.84,[8.68,8.8]],[11.57,[8.5,8.75]],[11.17,[8.75]],
 [11.15,[4,4.4,4.75]],[10.85,[3.8,4.15,4.5,4.85,5.1]],[10.5,[3.6,3.95,4.3,4.65,5,5.3]],[10.15,[3.5,3.85,4.2,4.55,4.9,5.25,5.45]],
 [9.8,[3.5,3.85,4.2,4.55,4.9,5.25,5.55]],[9.45,[3.55,3.9,4.25,4.6,4.95,5.3,5.6]],[9.1,[3.7,4.05,4.4,4.75,5.1,5.4,6]],
 [8.75,[3.85,4.2,4.6,5,5.35,5.75]],[8.4,[3.8,4.1,4.5,5,5.4,5.7]],[8.05,[4.4,5.2,5.55,5.9]],[7.75,[5.05,5.4,5.75,6.05]],[7.45,[5.15,5.5,5.85,6.15]],[7.15,[5.45,5.8]],
 [9.7,[-.8,-.95]],[9.44,[-.95,-.8]],[8.9,[-.88]],
 [8.35,[-5.85,-5.5,-5.2]],[8.05,[-6.3,-5.95,-5.6,-5.25,-4.95]],[7.75,[-6.7,-6.35,-6,-5.65,-5.3,-5,-4.7]],[7.45,[-6.75,-6.4,-6.05,-5.7,-5.35,-4.9,-4.55,.74]],
 [7.1,[-6.6,-6.25,-5.9,-5.5,-4.6,-4.25,-3.95]],[6.8,[-6.5,-6.2,-5.85,-4.25,-3.85,-3.55]],[6.5,[-6.35,-6,-3.75,-3.4,-3.05,-2.7,-2,-1.65]],
 [6.2,[-6.2,-5.85,-3.55,-3.2,-2.85,-2.5]],[5.9,[-5.95,-5.6,-3.4,-3.05,-2.75]],[5.6,[-5.7,-5.4]],[5.35,[-5.4]],
 [7.6,[-.5,-.15,.1]],[7.3,[-.8,-.45,-.1,.2,.5]],[7,[-.95,-.6,-.25,.1,.45]],[6.7,[-1.2,-.85,-.5,-.15,.2,.5]],[6.4,[-.75,-.4,-.05,.3]],
 [6.1,[-.6,-.3,0]],[5.8,[-.5,-.25]],[5.5,[-.5,-.25]],[5.2,[-.45,-.25]],[4.85,[-.35,-.25]]
];
// OLFM4 level per cell of the first rows above, '0' stays grey
const olfm4Rows = ['4343','434334','3443433','434344343','443343344','33430344344','23320134343','33230434344',
 '233210334343','23320343433','32301344343','233021332343','3223013323344','33233223323343','332332333233233','233323233323323',
 '33323233323323333','233332333233233333','33342333433233333','333323333343323333','333433233333323333','33343233343333323',
 '3334334333333323','34334343343333','3343443433433','344434434333','44443343343','344443434','4444'];
const cd8aCells = [[-5.67,8.28,2.2],[-5.5,8.0,2.4],[-5.3,7.85,2.5],[-5.1,7.6,2.2],[-5.6,7.5,1.8],[-6.55,7.47,1.8],[-6.5,7.1,1.7],[-6.45,6.85,1.6],[-5.9,7.4,1.9],[-4.9,7.35,2.3],[-4.66,7.15,2.6],[-4.4,7.05,2.6],[-4.15,6.9,2.7],[-4,6.8,2.7],[-3.8,6.6,2.9],[-3.6,6.7,2.6],[-3.5,6.45,2.9],[-3.35,6.2,3],[-3.2,6,3.1],[-3.05,6.3,2.8],[-2.9,6.1,3],[-3.3,5.85,3.1],[-3.05,5.75,3],[-2.75,6.35,2.7],[-2.6,6,2.9],[-2.6,6.55,2.3],[-3.7,6.2,2.6],[-5.5,5.7,1.9],[-5.6,5.95,1.7],[-5.9,6.5,1.3],[-1.6,6.5,1.2],[.07,6.8,1],[4.46,9.75,1],[-5,-6.9,1.2],[-1.6,-8.3,1],[-2.1,-7.35,.8]];
const cd4Cells = [[-.4,5.86,1.4],[-.4,4.9,1.5],[-.45,5.3,1.3],[-.3,5.5,1.6],[-.2,6.3,1.6],[-.05,6.9,1.7],[.27,6.83,1.5],[.05,7.4,1.5],[-.2,7.2,1.6],[-.6,6.5,1.5],[.2,6.4,1.6],[-.05,6.6,1.4],[-2.77,6.76,1.2],[-2.1,6.4,1],[4.53,9.8,.9],[6,9.15,1],[9.4,12.6,1.2],[8.6,12.3,1.3],[8.7,11.7,1.2],[8.7,11.35,1.1],[-14.26,-4.17,1.4],[-1.55,-5.86,1],[7,-4.66,1.2]];
const znf683Cells = [[-4.73,7.53,1.1],[-4,7.18,1.2],[-4.12,7,1.1],[-2.64,6.65,1.5],[-2.8,6.46,1.2],[-3.3,6.36,1.3],[-3.75,6.25,1.1],[-3.58,6.04,1.3],[-3.3,5.93,1.5],[-2.8,5.93,1.2],[-2.5,6.25,1.1],[-1.96,6.46,1.2],[-1.2,6.65,1.2],[-.27,4.76,1.2]];
const olfm4Cells = [[2.3,-3.1,3.6],[2.5,-3.3,3.2],[2.7,-3.55,3.4],[2.85,-3.8,3.2],[2.95,-4.1,3.4],[3.05,-4.5,2.6],[8.3,-4.1,4.2],[8.4,-4.3,4.4],[8.2,-3.95,3.8],[8.05,-4.15,3.2],[8.45,-4.05,4],[7.1,-4.65,3],[6.6,-4.65,2],[3.7,-3.85,1],[4.1,-3.9,1.4],[1.1,-6.85,2],[1.6,-7.05,2.4],[1.9,-6.9,1.8],[2.1,-6.4,2.4],[2.6,-6.65,1.6],[.75,-6.85,2.4],[9.43,12.7,2.2],[8.8,11.6,2.2],[8.7,11.8,1.6],[-6.4,8,.9],[-6.1,6.8,1],[-6.35,6.5,1],[-5.9,6.3,1.2],[-3.6,6.6,.8],[-4.3,6.9,.8],[-.3,7.4,1],[.1,6.6,1.2],[-.25,6.1,1.2],[-.35,5.1,1],[-.3,4.95,1.2]];

const umapPanels = [
 {title:'CD8A', cells:cd8aCells, top:3.55, ticks:[0,1,2,3]},
 {title:'CD4', cells:cd4Cells, top:2.99, ticks:[0,1,2]},
 {title:'ZNF683', cells:znf683Cells, top:2.93, ticks:[0,1,2]},
 {title:'OLFM4', cells:olfm4Cells, top:5.5, ticks:[0,1,2,3,4,5], rows:olfm4Rows}
];

// ---------------------------------------------------------------------
const svg = d3.select('#fig');
const defs = svg.append('defs');
svg.append('rect').attr('width', 2480).attr('height', 7926).attr('fill', '#fff');

// panel letters
[['A',12,64],['B',13,1978],['C',17,3995],['D',17,6007]].forEach(d => {
  svg.append('text').attr('x', d[1]).attr('y', d[2]).attr('font-size', 71).text(d[0]);
});

// colour helpers
const heatColor = d3.scaleLinear().domain([-.91, 2.5]).range(['#d3d3d3', '#ef7d73']).clamp(true);

function gradientBar(g, id, color, domain, x, w, yScale, ticks, labelX, fontSize) {
  const grad = defs.append('linearGradient').attr('id', id).attr('x1', 0).attr('x2', 0).attr('y1', 1).attr('y2', 0);
  d3.range(0, 1.001, .05).forEach(t => {
    grad.append('stop').attr('offset', t).attr('stop-color', color(domain[0] + t * (domain[1] - domain[0])));
  });
  g.append('rect').attr('x', x).attr('width', w)
    .attr('y', yScale(domain[1])).attr('height', yScale(domain[0]) - yScale(domain[1]))
    .attr('fill', `url(#${id})`);
  ticks.forEach(t => {
    g.append('line').attr('x1', x).attr('x2', x + w / 5).attr('y1', yScale(t)).attr('y2', yScale(t)).attr('stroke', '#fff').attr('stroke-width', 1.5);
    g.append('line').attr('x1', x + w * .8).attr('x2', x + w).attr('y1', yScale(t)).attr('y2', yScale(t)).attr('stroke', '#fff').attr('stroke-width', 1.5);
    g.append('text').attr('x', labelX).attr('y', yScale(t)).attr('dy', '.36em').attr('font-size', fontSize).text(t);
  });
}

// ---- A
(function panelA() {
  const g = svg.append('g');
  const x0 = 226, gap = 5.2, x1 = 2174;
  const total = d3.sum(clusterSizes);
  const unit = (x1 - x0 - gap * 14) / total;
  const starts = [];
  let acc = x0;
  clusterSizes.forEach(s => { starts.push(acc); acc += s * unit + gap; });
  const y = d3.scaleBand().domain(heatGenes).range([168, 1890]);

  clusters.forEach((c, i) => {
    const w = clusterSizes[i] * unit;
    g.append('rect').attr('x', starts[i]).attr('y', 103).attr('width', w).attr('height', 35).attr('fill', clusterColors[i]);
    g.append('text').attr('transform', `translate(${starts[i] + w / 2 + 2},86) rotate(-45)`)
      .attr('font-size', 44).text(c);
  });

  heatGenes.forEach((gene, r) => {
    g.append('rect').attr('x', x0).attr('y', y(gene)).attr('width', 2180 - x0).attr('height', y.bandwidth() + .5).attr('fill', heatColor(heatZero[r]));
    g.append('text').attr('x', 208).attr('y', y(gene) + y.bandwidth() / 2).attr('dy', '.36em').attr('text-anchor', 'end')
      .attr('font-size', 30.5).attr('fill', '#4d4d4d').text(gene);
  });

  heatBlocks.forEach(([gene, c, s]) => {
    const band = d3.scaleBand().domain(d3.range(s.length)).range([starts[c], starts[c] + clusterSizes[c] * unit]);
    // blocks with gaps are separate cells, narrower than their group
    const stripe = s.includes('.') ? band.bandwidth() * .78 : band.bandwidth() + .3;
    g.append('g').selectAll('rect').data(s.split('').map((ch, i) => ({ ch, i })).filter(d => d.ch !== '.')).join('rect')
      .attr('x', d => band(d.i)).attr('y', y(gene))
      .attr('width', stripe).attr('height', y.bandwidth())
      .attr('fill', d => heatColor(+d.ch * .3));
  });
  heatSingles.forEach(([gene, c, ps]) => {
    const pos = d3.scaleLinear().domain([0, 100]).range([starts[c], starts[c] + clusterSizes[c] * unit - 2]);
    g.append('g').selectAll('rect').data(ps).join('rect')
      .attr('x', d => pos(d)).attr('y', y(gene)).attr('width', 2).attr('height', y.bandwidth())
      .attr('fill', heatColor(2.1));
  });

  // grey separators between the groups
  clusters.forEach((c, i) => {
    g.append('rect').attr('x', starts[i] + clusterSizes[i] * unit).attr('y', 168).attr('width', gap).attr('height', 1722).attr('fill', '#808080');
  });

  // legends
  g.append('text').attr('x', 2238).attr('y', 330).attr('font-size', 37.5).text('Expression');
  const barY = d3.scaleLinear().domain([0, 2]).range([571, 398]);
  gradientBar(g, 'heatBar', heatColor, [-.91, 2.51], 2236, 60, barY, [2, 1, 0], 2315, 30);
  g.append('text').attr('x', 2238).attr('y', 759).attr('font-size', 37.5).text('Identity');
  const idY = d3.scalePoint().domain(clusters).range([811, 1644]);
  clusters.forEach((c, i) => {
    g.append('circle').attr('cx', 2266).attr('cy', idY(c)).attr('r', 8).attr('fill', clusterColors[i]);
    g.append('text').attr('x', 2315).attr('y', idY(c)).attr('dy', '.36em').attr('font-size', 30).text(c);
  });
})();

// ---- B
(function panelB() {
  const g = svg.append('g').attr('class', 'dot');
  const x = d3.scaleLinear().domain([0, 14]).range([397, 1915]);
  const y = d3.scalePoint().domain(dotGenes).range([1962.5, 3732]);
  const r = d3.scaleLinear().domain([0, 100]).range([2, 24]);
  const spots = new Map(dotSpots.map(d => [d[0] + '|' + d[1], d]));
  const all = [];
  dotGenes.forEach(gene => clusters.forEach((c, i) => {
    const s = spots.get(gene + '|' + i);
    all.push({ gene, i, pct: s ? s[2] : 3, avg: s ? s[3] : 0 });
  }));
  g.append('g').selectAll('circle').data(all).join('circle')
    .attr('cx', d => x(d.i)).attr('cy', d => y(d.gene)).attr('r', d => r(d.pct))
    .attr('fill', d => heatColor(d.avg));

  const xAxis = g.append('g').attr('transform', 'translate(0,3756)')
    .call(d3.axisBottom(d3.scaleLinear().domain([-.6, 14.62]).range([332, 1982])).tickValues(d3.range(15)).tickFormat(d3.format('d')).tickSize(14).tickSizeOuter(0).tickPadding(8));
  const yAxis = g.append('g').attr('transform', 'translate(332,0)')
    .call(d3.axisLeft(d3.scalePoint().domain(dotGenes).range([1962.5, 3732])).tickSize(12).tickPadding(11));
  yAxis.select('.domain').attr('d', 'M0,1937V3756');
  [xAxis, yAxis].forEach(a => {
    a.selectAll('text').attr('font-size', 41).attr('font-family', '"Liberation Sans"').attr('fill', '#000');
    a.selectAll('line,path').attr('stroke', '#000').attr('stroke-width', 3.5);
  });
  g.append('text').attr('x', 1156).attr('y', 3864).attr('text-anchor', 'middle').attr('font-size', 47.6).text('Identity');
  g.append('text').attr('transform', 'translate(60,2844) rotate(-90)').attr('text-anchor', 'middle').attr('font-size', 47.6).text('Features');

  // legends
  g.append('text').attr('x', 2029).attr('y', 2526).attr('font-size', 47).text('Average Expression');
  const barY = d3.scaleLinear().domain([0, 2]).range([2748, 2594]);
  gradientBar(g, 'dotBar', heatColor, [-.91, 2.48], 2029, 52, barY, [2, 1, 0], 2106, 42);
  g.append('text').attr('x', 2030).attr('y', 2907).attr('font-size', 47).text('Percent Expressed');
  const py = d3.scalePoint().domain(dotPercentBreaks).range([2964, 3178]);
  dotPercentBreaks.forEach(p => {
    g.append('circle').attr('cx', 2057).attr('cy', py(p)).attr('r', r(p)).attr('fill', '#000');
    g.append('text').attr('x', 2112).attr('y', py(p)).attr('dy', '.36em').attr('font-size', 40).text(p);
  });
})();

// ---- C
(function panelC() {
  const g = svg.append('g');
  const x = d3.scaleLinear().domain([0, 14]).range([180.8, 1191.5]);
  const rows = d3.scaleBand().domain(violinGenes).range([3954, 5750]);
  const h = rows.bandwidth();
  const halfWidth = d3.scaleLinear().domain([0, 1]).range([0, 33]);
  const bodies = new Map();
  violinBodies.forEach(b => bodies.set(b[0] + '|' + b[1], b));

  violinGenes.forEach((gene, r) => {
    const top = rows(gene), bottom = top + h;
    const labelVal = violinTickLabels[r];
    const y = d3.scaleLinear().domain([0, labelVal / .75]).range([bottom, top]);
    const facet = g.append('g');
    // spikes
    violinSpikes[r].forEach((v, c) => {
      if (!v) return;
      const val = v * y.domain()[1];
      facet.append('line').attr('x1', x(c)).attr('x2', x(c)).attr('y1', y(0)).attr('y2', y(val)).attr('stroke', '#333').attr('stroke-width', 3);
    });
    // bodies
    clusters.forEach((cName, c) => {
      const b = bodies.get(gene + '|' + c);
      if (!b) return;
      const [, , prof, share, mult, from = 0] = b;
      const vy = d3.scaleLinear().domain([0, prof.length - 1]).range([from * y.domain()[1], share * y.domain()[1]]);
      const area = d3.area().curve(d3.curveMonotoneY)
        .y((d, i) => y(vy(i)))
        .x0((d, i) => x(c) - halfWidth(i === 0 ? d : Math.min(1.02, d * mult)))
        .x1((d, i) => x(c) + halfWidth(i === 0 ? d : Math.min(1.02, d * mult)));
      facet.append('path').attr('d', area(prof)).attr('fill', violinColors[r]).attr('stroke', '#333').attr('stroke-width', 2.8).attr('stroke-linejoin', 'round');
    });
    // frame of the facet
    facet.append('line').attr('x1', 138).attr('x2', 1235).attr('y1', bottom).attr('y2', bottom).attr('stroke', '#1a1a1a').attr('stroke-width', 3.5);
    // left ticks and label
    y.ticks(4).forEach(t => {
      facet.append('line').attr('x1', 128).attr('x2', 138).attr('y1', y(t)).attr('y2', y(t)).attr('stroke', '#000').attr('stroke-width', 3);
    });
    facet.append('line').attr('x1', 128).attr('x2', 138).attr('y1', y(labelVal)).attr('y2', y(labelVal)).attr('stroke', '#000').attr('stroke-width', 3);
    facet.append('text').attr('x', 115).attr('y', y(labelVal)).attr('dy', '.36em').attr('text-anchor', 'end').attr('font-size', 24).text(labelVal);
    facet.append('text').attr('x', 1362).attr('y', top + h / 2).attr('dy', '.36em').attr('text-anchor', 'middle')
      .attr('font-size', 41).attr('font-weight', 'bold').text(gene);
  });
  g.append('line').attr('x1', 138).attr('x2', 1235).attr('y1', 3954).attr('y2', 3954).attr('stroke', '#777').attr('stroke-width', 2);
  g.append('line').attr('x1', 138).attr('x2', 138).attr('y1', 3954).attr('y2', 5750).attr('stroke', '#000').attr('stroke-width', 3.5);
  g.append('line').attr('x1', 1235).attr('x2', 1235).attr('y1', 3954).attr('y2', 5750).attr('stroke', '#222').attr('stroke-width', 2.5);

  clusters.forEach((c, i) => {
    g.append('line').attr('x1', x(i)).attr('x2', x(i)).attr('y1', 5750).attr('y2', 5760).attr('stroke', '#000').attr('stroke-width', 3);
    g.append('text').attr('transform', `translate(${x(i) + 1},5797) rotate(-45)`).attr('text-anchor', 'middle').attr('dy', '.36em')
      .attr('font-size', 40).text(c);
  });
  g.append('text').attr('x', 687).attr('y', 5879).attr('text-anchor', 'middle').attr('font-size', 47.6).text('Identity');
  g.append('text').attr('transform', 'translate(57,4853) rotate(-90)').attr('text-anchor', 'middle').attr('font-size', 47.6).text('Expression Level');

  // legend of the genes, three columns of fifteen
  const colX = [1539, 1869, 2178];
  const ly = d3.scalePoint().domain(d3.range(15)).range([4483, 5221]);
  violinGenes.forEach((gene, i) => {
    const col = Math.floor(i / 15), row = i % 15;
    g.append('rect').attr('x', colX[col]).attr('y', ly(row) - 26).attr('width', 50).attr('height', 52).attr('fill', '#333');
    g.append('rect').attr('x', colX[col] + 3).attr('y', ly(row) - 24.5).attr('width', 44).attr('height', 49).attr('fill', violinColors[i]);
    g.append('text').attr('x', colX[col] + 77).attr('y', ly(row)).attr('dy', '.36em').attr('font-size', 40).text(gene);
  });
})();

// ---- D
(function panelD() {
  const offsets = [[0, -974], [1221, -974], [0, 0], [1221, 0]];
  const x = d3.scaleLinear().domain([-16.73, 20.74]).range([192, 1069]);
  const y = d3.scaleLinear().domain([-11.34, 18.41]).range([7765, 7033]);
  const purple = t => d3.scaleLinear().domain([0, .33, .7, 1]).range(['#d3d3d3', '#b9a5d3', '#5a4c9f', '#2752a2'])(t);
  const allCells = [];
  umapRows.forEach(([cy, xs], r) => xs.forEach((cx, i) => allCells.push({ cx, cy, r, i })));

  umapPanels.forEach((p, k) => {
    const g = svg.append('g').attr('transform', `translate(${offsets[k][0]},${offsets[k][1]})`);
    const color = v => purple(v / p.top);
    const pointG = g.append('g').attr('fill-opacity', .5);
    pointG.selectAll('circle.base').data(allCells).join('circle').attr('class', 'base')
      .attr('cx', d => x(d.cx)).attr('cy', d => y(d.cy)).attr('r', 5.2)
      .attr('fill', d => {
        const lev = p.rows && p.rows[d.r] ? +p.rows[d.r][d.i] : 0;
        return lev ? color(lev) : '#d3d3d3';
      });
    pointG.selectAll('circle.on').data(p.cells).join('circle').attr('class', 'on')
      .attr('cx', d => x(d[0])).attr('cy', d => y(d[1])).attr('r', 5.2).attr('fill', d => color(d[2]));

    const xa = g.append('g').attr('transform', 'translate(0,7765)')
      .call(d3.axisBottom(x).tickValues([-10, 0, 10, 20]).tickSize(14).tickSizeOuter(0).tickPadding(9));
    const ya = g.append('g').attr('transform', 'translate(192,0)')
      .call(d3.axisLeft(y).tickValues([-10, 0, 10]).tickSize(14).tickSizeOuter(0).tickPadding(9));
    [xa, ya].forEach(a => {
      a.selectAll('text').attr('font-size', 41).attr('font-family', '"Liberation Sans"').attr('fill', '#000');
      a.selectAll('line,path').attr('stroke', '#000').attr('stroke-width', 3.5);
    });
    g.append('text').attr('x', 629).attr('y', 6998).attr('text-anchor', 'middle').attr('font-size', 55).attr('font-weight', 'bold').text(p.title);
    g.append('text').attr('x', 629).attr('y', 7872).attr('text-anchor', 'middle').attr('font-size', 47).text('umap_1');
    g.append('text').attr('transform', 'translate(79,7397) rotate(-90)').attr('text-anchor', 'middle').attr('font-size', 47).text('umap_2');
    const by = d3.scaleLinear().domain([0, p.top]).range([7530, 7268]);
    gradientBar(g, 'umapBar' + k, color, [0, p.top], 1116, 53, by, p.ticks, 1194, 41);
  });
})();
</script>
</body>
</html>
